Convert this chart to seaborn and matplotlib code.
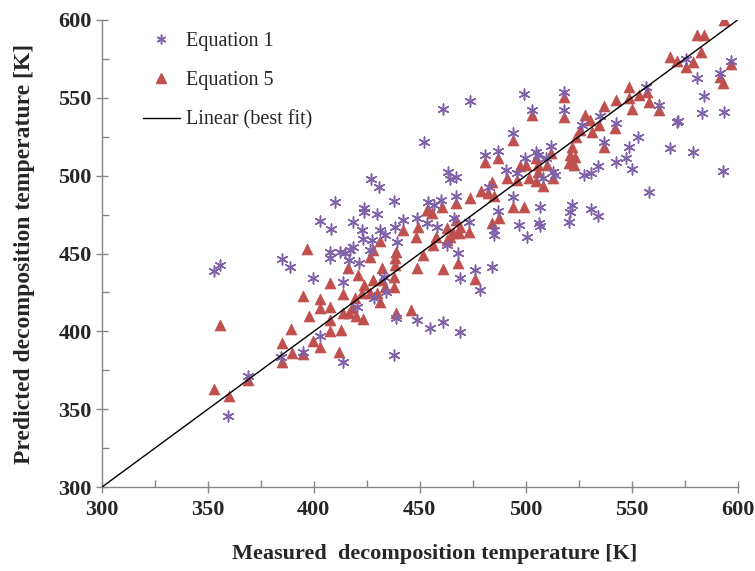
import numpy as np
import pandas as pd
import seaborn as sns
import matplotlib.pyplot as plt
from matplotlib.lines import Line2D
from matplotlib.ticker import MultipleLocator

# Equation 1 (measured, predicted)
eq1_measured = [
    352.9, 355.7, 384.9, 388.8, 399.8, 403.0, 368.8, 359.7, 384.6, 395.0,
    426.9, 430.9, 410.1, 437.9, 453.7, 423.8, 423.8, 403.0, 408.0, 418.7,
    430.0, 422.7, 431.0, 433.4, 438.4, 442.3, 448.6, 453.6, 423.1, 427.4,
    439.2, 418.7, 417.2, 414.8, 407.7, 407.7, 412.4, 416.4, 421.1, 426.6,
    414.0, 432.9, 420.3, 428.2, 434.2, 438.9, 448.6, 454.9, 437.9, 414.0,
    499.0, 473.8, 460.9, 451.8, 494.0, 480.9, 486.9, 499.8, 463.1, 464.4,
    467.2, 490.9, 495.9, 482.8, 494.0, 456.5, 460.0, 467.2, 486.9, 458.1,
    466.3, 473.1, 484.8, 484.8, 497.0, 500.6, 462.8, 467.9, 476.2, 484.1,
    469.1, 478.6, 460.9, 469.1,
    517.9, 503.0, 517.9, 534.9, 542.8, 526.6, 536.8, 548.6, 547.5, 505.0,
    505.6, 511.9, 509.7, 508.1, 513.1, 513.9, 542.8, 534.0, 530.8, 527.7,
    506.9, 521.9, 521.1, 530.8, 534.0, 520.3, 506.1, 506.9,
    575.4, 597.0, 591.9, 580.9, 556.8, 562.8, 584.1, 583.0, 593.8, 571.2,
    571.8, 552.9, 568.0, 579.1, 550.2, 593.0, 558.1,
]
eq1_predicted = [
    439.0, 442.4, 446.3, 441.1, 434.5, 397.2, 371.3, 345.6, 383.3, 386.9,
    498.0, 492.9, 483.3, 483.9, 483.3, 479.0, 476.9, 471.0, 465.7, 470.4,
    475.2, 465.1, 465.1, 461.9, 466.8, 471.5, 472.6, 469.4, 459.1, 458.7,
    457.6, 454.4, 452.3, 450.1, 451.2, 446.9, 451.2, 445.8, 443.7, 452.3,
    431.5, 435.1, 415.8, 421.2, 425.5, 408.4, 407.3, 402.0, 384.8, 380.1,
    552.5, 548.0, 542.8, 521.8, 527.6, 513.3, 516.0, 511.1, 502.6, 497.7,
    499.0, 503.6, 501.5, 492.9, 486.1, 481.2, 484.4, 486.9, 477.5, 466.8,
    472.6, 470.4, 465.1, 461.9, 468.3, 460.8, 455.5, 450.5, 439.4, 441.5,
    434.1, 426.6, 406.2, 399.4,
    554.0, 542.2, 542.2, 538.3, 534.0, 532.5, 521.8, 518.6, 511.1, 515.4,
    513.3, 519.0, 511.1, 498.3, 502.6, 500.4, 509.0, 506.2, 501.9, 500.4,
    480.1, 481.2, 476.9, 478.4, 474.1, 470.4, 469.4, 467.7,
    575.0, 573.7, 565.8, 563.0, 557.2, 545.4, 551.4, 540.0, 541.1, 534.7,
    535.2, 525.0, 518.0, 515.0, 504.3, 503.2, 489.3,
]

# Equation 5 (measured, predicted)
eq5_measured = [
    397.0, 355.9, 352.9, 359.8, 368.8, 407.7, 394.8, 402.8, 402.8, 397.9,
    407.7, 407.7, 407.7, 389.0, 384.9, 389.9, 399.8, 403.0, 394.8, 384.9,
    431.0, 427.9, 426.3, 442.3, 448.3, 449.1, 453.3, 438.9, 438.3, 438.3,
    451.7, 448.9, 415.9, 420.9, 432.1, 427.9, 432.1, 437.9, 437.6, 433.7,
    423.8, 422.7, 426.6, 430.0, 431.0, 414.0, 419.5, 418.0, 416.4, 414.0,
    420.0, 423.1, 412.8, 438.9, 445.8, 412.1,
    494.0, 480.9, 486.9, 497.1, 500.3, 501.4, 491.2, 495.9, 484.0, 478.8,
    482.4, 485.2, 473.8, 494.0, 499.0, 460.4, 467.1, 455.7, 454.1, 484.0,
    487.2, 467.2, 462.8, 464.4, 465.9, 468.4, 469.1, 457.8, 462.8, 473.1,
    456.2, 460.9, 467.9, 476.2,
    548.6, 542.8, 548.6, 536.8, 517.9, 503.0, 517.9, 528.2, 530.5, 534.4,
    542.3, 525.8, 523.9, 531.3, 536.8, 521.9, 521.1, 523.4, 520.3, 523.0,
    511.9, 505.0, 505.6, 505.6, 510.0, 505.0, 513.1, 508.1,
    593.8, 580.9, 584.1, 582.8, 567.9, 571.5, 575.4, 579.1, 597.0, 591.9,
    593.0, 557.0, 553.3, 558.0, 550.2, 563.0,
]
eq5_predicted = [
    452.7, 404.0, 363.0, 358.5, 368.7, 430.8, 422.7, 420.8, 414.8, 409.9,
    415.8, 407.3, 400.4, 401.3, 392.7, 386.3, 394.0, 389.8, 385.4, 380.3,
    458.2, 452.3, 447.6, 465.1, 460.4, 467.2, 478.0, 451.2, 446.9, 442.6,
    449.0, 440.5, 440.5, 436.2, 440.5, 433.0, 433.0, 435.1, 428.7, 428.7,
    429.8, 424.4, 424.4, 424.8, 419.0, 424.0, 421.2, 414.8, 411.6, 411.6,
    410.0, 407.7, 400.9, 412.0, 413.7, 386.9,
    522.9, 509.0, 511.1, 506.2, 506.9, 498.3, 498.3, 497.2, 496.1, 490.3,
    488.6, 486.9, 485.5, 480.1, 480.1, 480.1, 482.3, 475.8, 477.9, 469.4,
    472.6, 471.5, 466.2, 460.8, 463.0, 463.0, 467.2, 460.8, 458.7, 464.0,
    455.5, 439.9, 444.1, 433.5,
    557.2, 548.6, 549.7, 544.8, 550.7, 539.0, 537.5, 539.0, 535.8, 532.5,
    530.4, 529.3, 525.0, 528.3, 518.6, 518.6, 513.3, 512.2, 508.0, 506.9,
    514.4, 511.1, 506.8, 502.1, 506.9, 496.8, 498.3, 493.4,
    600.0, 590.4, 590.4, 579.6, 576.4, 573.7, 570.0, 572.8, 571.5, 563.6,
    559.3, 554.0, 551.8, 547.1, 542.8, 542.2,
]

fit_x = [300, 600]
fit_y = [300, 600]

purple = "#7F62A8"
red = "#C0504D"
axis_gray = "#868686"

sns.set_style("white")
plt.rcParams['font.family'] = ['Liberation Serif', 'DejaVu Serif']

fig = plt.figure(figsize=(7.55, 5.71), dpi=100)
ax = fig.add_axes([0.135, 0.147, 0.842, 0.818])

sns.scatterplot(x=eq5_measured, y=eq5_predicted, ax=ax, marker="^", s=62,
                color=red, edgecolor=red, linewidth=0.5, zorder=2)
sns.scatterplot(x=eq1_measured, y=eq1_predicted, ax=ax, marker=(6, 2, 0), s=60,
                color=purple, edgecolor=purple, linewidth=1.1, zorder=3)
sns.lineplot(x=fit_x, y=fit_y, ax=ax, color="black", linewidth=1.0, zorder=4)

ax.set_xlim(300, 600)
ax.set_ylim(300, 600)
ax.xaxis.set_major_locator(MultipleLocator(50))
ax.yaxis.set_major_locator(MultipleLocator(50))
ax.xaxis.set_minor_locator(MultipleLocator(25))
ax.yaxis.set_minor_locator(MultipleLocator(25))
ax.tick_params(which="major", direction="inout", length=9, width=1,
               color=axis_gray, labelsize=16, pad=3)
ax.tick_params(which="minor", direction="in", length=5, width=1, color=axis_gray)
ax.tick_params(left=True, bottom=True, which="both")
ax.tick_params(axis="x", which="major", pad=5)
for lbl in ax.get_xticklabels() + ax.get_yticklabels():
    lbl.set_fontweight("bold")

sns.despine(ax=ax)
for side in ["left", "bottom"]:
    ax.spines[side].set_color(axis_gray)
    ax.spines[side].set_linewidth(1)

ax.set_xlabel("Measured  decomposition temperature [K]", fontsize=16,
              fontweight="bold")
ax.set_ylabel("Predicted decomposition temperature [K]", fontsize=17,
              fontweight="bold")
ax.xaxis.set_label_coords(0.524, -0.122)
ax.yaxis.set_label_coords(-0.106, 0.5)

handles = [
    Line2D([], [], linestyle="none", marker=(6, 2, 0), markersize=7,
           markeredgewidth=1.1, color=purple),
    Line2D([], [], linestyle="none", marker="^", markersize=7, color=red),
    Line2D([], [], color="black", linewidth=1.0),
]
ax.legend(handles, ["Equation 1", "Equation 5", "Linear (best fit)"],
          loc="upper left", bbox_to_anchor=(0.064, 0.975), frameon=False,
          fontsize=14.5, labelspacing=1.0, handlelength=1.85,
          handletextpad=0.3, borderpad=0, borderaxespad=0)

fig.savefig("out.png", dpi=100)
